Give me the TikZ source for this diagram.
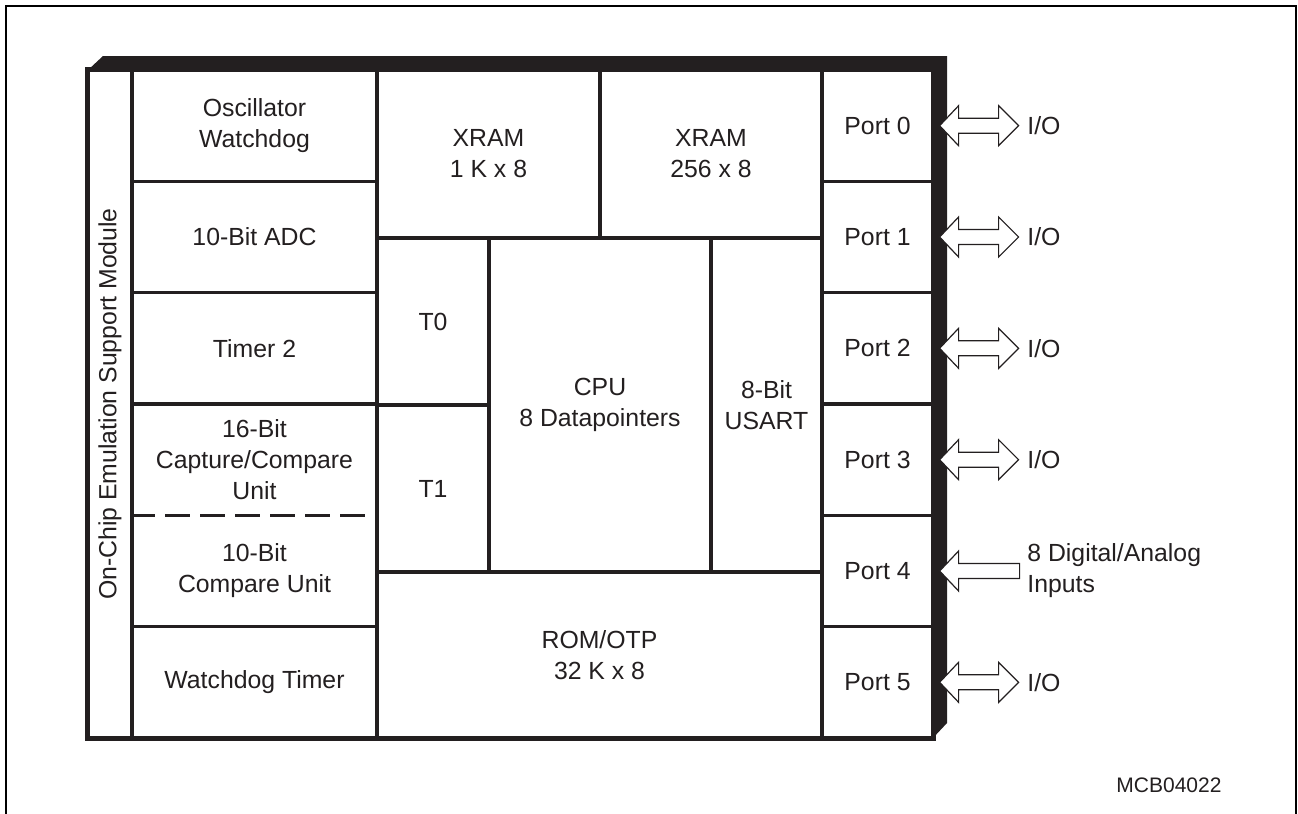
\documentclass[tikz,border=0pt]{standalone}
\usepackage{fontspec}
\setmainfont{Liberation Sans}
\usetikzlibrary{calc}
\definecolor{ink}{HTML}{231F20}
\begin{document}
\begin{tikzpicture}[x=0.5pt,y=-0.5pt,
  txt/.style={text=ink, font=\fontsize{12.4}{15.5}\selectfont},
  blk/.style={txt, draw=ink, line width=1.6pt, rectangle, inner sep=0pt, align=center},
  plain/.style={txt, inner sep=0pt, align=center},
  lbl/.style={txt, inner sep=0pt, align=left, anchor=west},
  barrow/.style={draw=ink, fill=white, line width=0.6pt, line join=miter},
  rowbox/.style={blk, minimum height=55.67pt}]
\useasboundingbox (0,0) rectangle (1298,814);
% outer frame
\draw[line width=1pt, black] (6,814) -- (6,6) -- (1296,6) -- (1296,814);
% shadow
\fill[ink] (88,70) -- (103,56) -- (947,56) -- (947,723) -- (933,738) -- (933,70) -- cycle;
% chip body
\node[blk, fill=white, minimum width=422.5pt, minimum height=334pt] (chip) at (510.5,404) {};
% emulation column
\node[blk, rotate=90, minimum width=334pt, minimum height=22pt] (emu) at (110,404) {On-Chip Emulation Support Module};
% left column
\node[rowbox, minimum width=122.5pt] (osc) at (254.5,125.7) {Oscillator\\Watchdog};
\node[rowbox, minimum width=122.5pt] (adc) at (254.5,237) {10-Bit ADC};
\node[rowbox, minimum width=122.5pt] (tim2) at (254.5,348.3) {Timer 2};
\node[blk, minimum width=122.5pt, minimum height=111.33pt] (ccu) at (254.5,515.3) {};
\node[plain] (cc) at (254.5,459.7) {16-Bit\\Capture/Compare\\Unit};
\node[plain] (cmp) at (254.5,571) {10-Bit\\Compare Unit};
\draw[ink, line width=1.6pt, dash pattern=on 12.5pt off 5pt] (ccu.west) -- (ccu.east);
\node[rowbox, minimum width=122.5pt] (wdt) at (254.5,682.3) {Watchdog Timer};
% middle
\node[blk, minimum width=111.5pt, minimum height=84pt] (xram1) at (488.5,154) {XRAM\\1 K x 8};
\node[blk, minimum width=111pt, minimum height=84pt] (xram2) at (711,154) {XRAM\\256 x 8};
\node[blk, minimum width=56pt, minimum height=83.5pt] (t0) at (433,321.5) {T0};
\node[blk, minimum width=56pt, minimum height=83.5pt] (t1) at (433,488.5) {T1};
\node[blk, minimum width=111pt, minimum height=167pt] (cpu) at (600,405) {CPU\\8 Datapointers};
\node[blk, minimum width=55.5pt, minimum height=167pt] (usart) at (766.5,405) {8-Bit\\USART};
\node[blk, minimum width=222.5pt, minimum height=83pt] (rom) at (599.5,655) {ROM/OTP\\32 K x 8};
% ports
\node[rowbox, minimum width=55.5pt] (p0) at (877.5,125.7) {Port 0};
\node[rowbox, minimum width=55.5pt] (p1) at (877.5,237) {Port 1};
\node[rowbox, minimum width=55.5pt] (p2) at (877.5,348.3) {Port 2};
\node[rowbox, minimum width=55.5pt] (p3) at (877.5,459.7) {Port 3};
\node[rowbox, minimum width=55.5pt] (p4) at (877.5,571) {Port 4};
\node[rowbox, minimum width=55.5pt] (p5) at (877.5,682.3) {Port 5};
% chip outline on top
\draw[ink, line width=1.6pt] (chip.north west) rectangle (chip.south east);
% labels
\node[lbl] (io0) at (1027,125.7) {I/O};
\node[lbl] (io1) at (1027,237) {I/O};
\node[lbl] (io2) at (1027,348.3) {I/O};
\node[lbl] (io3) at (1027,459.7) {I/O};
\node[lbl] (in4) at (1027,571) {8 Digital/Analog\\Inputs};
\node[lbl] (io5) at (1027,682.3) {I/O};
\node[txt, inner sep=0pt, font=\fontsize{10.5}{12}\selectfont] (mcb) at (1169,785) {MCB04022};
% double arrows
\foreach \p in {p0,p1,p2,p3,p5}{
  \draw[barrow] ($(\p.east)+(5,0)$) -- ++(19,-20) -- ++(0,12.5) -- ++(40,0) -- ++(0,-12.5)
     -- ++(20,20) -- ++(-20,20) -- ++(0,-12.5) -- ++(-40,0) -- ++(0,12.5) -- cycle;
}
% single arrow into port 4
\draw[barrow] ($(p4.east)+(5,0)$) -- ++(19,-20) -- ++(0,12.5) -- ++(61,0) -- ++(0,15)
   -- ++(-61,0) -- ++(0,12.5) -- cycle;
\end{tikzpicture}
\end{document}
